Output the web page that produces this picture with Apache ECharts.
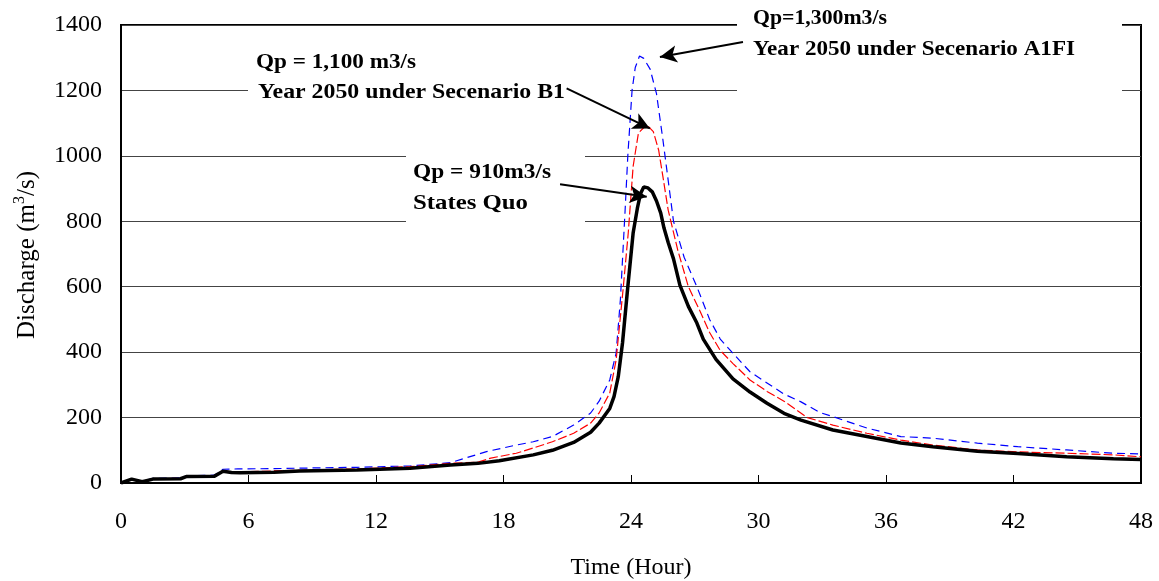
<!DOCTYPE html>
<html><head><meta charset="utf-8">
<script src="https://cdn.jsdelivr.net/npm/echarts@6/dist/echarts.min.js"></script>
<style>html,body{margin:0;padding:0;background:#fff}#c{width:1159px;height:581px}</style>
</head><body><div id="c"></div>
<script>
// Status Quo (black, solid)
const sqHours = [0, 0.5, 1, 1.5, 2.8, 3.1, 4.4, 4.8, 5.2, 5.6, 7.2, 8.4, 11.1, 13.6, 15.5, 16.8, 17.8, 19.4, 20.3, 21.3, 22.1, 22.5, 23.0, 23.2, 23.4, 23.6, 23.85, 24.1, 24.3, 24.45, 24.6, 24.8, 25.0, 25.2, 25.4, 25.55, 25.75, 26.0, 26.3, 26.7, 27.1, 27.4, 28.0, 28.8, 29.6, 30.4, 31.2, 32.0, 33.5, 35.1, 36.7, 38.2, 40.3, 42.2, 44.5, 46.7, 48];
const sqFlow  = [0, 12, 4, 12, 13, 20, 21, 36, 32, 31, 33, 37, 40, 45, 55, 60, 68, 86, 100, 124, 155, 183, 228, 264, 325, 428, 600, 764, 840, 885, 905, 902, 890, 862, 825, 780, 735, 685, 605, 540, 489, 440, 378, 318, 278, 244, 213, 192, 162, 142, 122, 111, 97, 90, 80, 74, 72];
// Year 2050 under Scenario B1 (red, dashed)
const b1Hours = [0, 0.5, 1, 1.5, 2.8, 3.1, 4.4, 4.8, 5.2, 5.6, 7.2, 9, 11.1, 13.6, 15.5, 16.8, 17.4, 18.6, 19.4, 20.3, 21.3, 22.1, 22.5, 23.0, 23.3, 23.64, 23.87, 24.1, 24.35, 24.74, 25.05, 25.3, 25.5, 25.75, 26.2, 26.7, 27.25, 27.7, 28.2, 28.8, 29.6, 30.4, 31.2, 32.3, 33.5, 35.1, 36.7, 38.2, 40.3, 42.2, 44.5, 46.7, 48];
const b1Flow  = [0, 12, 5, 13, 14, 21, 22, 38, 34, 34, 37, 40, 43, 50, 60, 64, 76, 91, 107, 126, 152, 183, 214, 275, 376, 600, 764, 968, 1070, 1095, 1074, 1018, 937, 834, 712, 600, 525, 460, 405, 365, 315, 280, 250, 200, 177, 152, 131, 116, 101, 95, 91, 86, 80];
// Year 2050 under Scenario A1FI (blue, dashed)
const a1Hours = [0, 0.5, 1, 1.5, 2.8, 3.1, 4.4, 4.8, 5.5, 7.2, 9, 11.1, 13.6, 15.5, 16.3, 17.2, 18.6, 19.4, 20.3, 21.3, 22.1, 22.5, 23.0, 23.3, 23.5, 23.72, 23.85, 24.05, 24.2, 24.4, 24.6, 24.9, 25.2, 25.5, 25.8, 26.0, 26.5, 27.1, 27.7, 28.2, 28.75, 29.6, 30.4, 31.2, 32.0, 32.9, 33.5, 35.1, 36.7, 38.2, 40.3, 42.2, 44.5, 46.7, 48];
const a1Flow  = [0, 12, 5, 14, 16, 22, 24, 42, 43, 44, 46, 48, 52, 62, 78, 96, 116, 126, 142, 177, 214, 250, 315, 397, 560, 830, 1000, 1200, 1270, 1305, 1298, 1265, 1190, 1050, 900, 800, 690, 600, 500, 440, 400, 340, 306, 272, 248, 215, 203, 168, 142, 137, 122, 111, 101, 91, 89];

const xTickValues = [0, 6, 12, 18, 24, 30, 36, 42, 48];
const yTickValues = [0, 200, 400, 600, 800, 1000, 1200, 1400];

// Annotation arrows [tailX, tailY, headX, headY] in data units
const arrowA1 = [29.27, 1348, 25.36, 1302];
const arrowB1 = [20.97, 1206, 24.89, 1084];
const arrowSQ = [20.66, 913, 24.74, 875];

const noteA1 = ['Qp=1,300m3/s', 'Year 2050 under Secenario A1FI'];
const noteB1 = ['Qp = 1,100 m3/s', 'Year 2050 under Secenario B1'];
const noteSQ = ['Qp = 910m3/s', 'States Quo'];

const zip = (xs, ys) => xs.map((x, i) => [x, ys[i]]);
const FONT = '"Liberation Serif", "Times New Roman", serif';
const NOTE_FONT = 'bold 22px ' + FONT;

const mctx = document.createElement('canvas').getContext('2d');
mctx.font = NOTE_FONT;

const chart = echarts.init(document.getElementById('c'), null, { renderer: 'canvas' });

function arrowLine(a) {
  return [{ coord: [a[0], a[1]], symbol: 'none' }, { coord: [a[2], a[3]], symbol: 'arrow' }];
}

const boxStyle = { fill: '#fff', stroke: null };
// text placed at left x, vertical middle y, stretched to the given width
function noteText(x, y, t, w) {
  const mw = mctx.measureText(t).width || w;
  return { type: 'text', x: x, y: y, scaleX: w / mw, z: 51, silent: true,
    style: { text: t, fill: '#000', font: NOTE_FONT, textAlign: 'left', textVerticalAlign: 'middle' } };
}

chart.setOption({
  animation: false,
  backgroundColor: '#fff',
  grid: { left: 121, right: 18, top: 25, bottom: 98, show: true, borderColor: '#000', borderWidth: 2,
    backgroundColor: 'transparent', containLabel: false, outerBoundsMode: 'none' },
  xAxis: {
    type: 'value', min: 0, max: 48, interval: 6,
    name: 'Time (Hour)', nameLocation: 'middle', nameGap: 73,
    nameTextStyle: { fontFamily: FONT, fontSize: 24, color: '#000' },
    axisLine: { show: true, lineStyle: { color: '#000', width: 2 } },
    axisTick: { show: true, inside: true, length: 8, lineStyle: { color: '#000', width: 1 } },
    axisLabel: { margin: 27, fontFamily: FONT, fontSize: 24, color: '#000',
      formatter: v => xTickValues.includes(v) ? String(v) : '' },
    splitLine: { show: false }
  },
  yAxis: {
    type: 'value', min: 0, max: 1400, interval: 200,
    axisLine: { show: true, lineStyle: { color: '#000', width: 2 } },
    axisTick: { show: false },
    axisLabel: { margin: 19, fontFamily: FONT, fontSize: 24, color: '#000', padding: [4, 0, 0, 0],
      formatter: v => yTickValues.includes(v) ? String(v) : '' },
    splitLine: { show: true, lineStyle: { color: '#444', width: 1 } }
  },
  series: [
    { type: 'line', name: 'A1FI', data: zip(a1Hours, a1Flow), showSymbol: false,
      lineStyle: { color: '#0000ff', width: 1.2, type: [8, 5] }, z: 3 },
    { type: 'line', name: 'B1', data: zip(b1Hours, b1Flow), showSymbol: false,
      lineStyle: { color: '#ff0000', width: 1.2, type: [9, 3] }, z: 4 },
    { type: 'line', name: 'Status Quo', data: zip(sqHours, sqFlow), showSymbol: false,
      lineStyle: { color: '#000', width: 3.5 }, z: 5 },
    { type: 'line', name: 'arrows', data: [], z: 100, silent: true,
      markLine: { z: 100, silent: true, symbolSize: [13, 17], animation: false,
        label: { show: false }, emphasis: { disabled: true },
        lineStyle: { color: '#000', width: 2, type: 'solid' },
        data: [arrowLine(arrowA1), arrowLine(arrowB1), arrowLine(arrowSQ)] } }
  ],
  graphic: [
    { type: 'rect', z: 50, silent: true, shape: { x: 737, y: 0, width: 385, height: 98 }, style: boxStyle },
    { type: 'rect', z: 50, silent: true, shape: { x: 248, y: 40, width: 382, height: 72 }, style: boxStyle },
    { type: 'rect', z: 50, silent: true, shape: { x: 406, y: 150, width: 179, height: 78 }, style: boxStyle },
    noteText(753, 18.5, noteA1[0], 134),
    noteText(753, 49.5, noteA1[1], 322),
    noteText(256, 62.5, noteB1[0], 160),
    noteText(258, 92.5, noteB1[1], 307),
    noteText(413, 172.5, noteSQ[0], 138),
    noteText(413, 203.5, noteSQ[1], 115),
    { type: 'text', x: 27, y: 255, rotation: Math.PI / 2, z: 51, silent: true,
      style: { text: 'Discharge (m{s|3}/s)', fill: '#000', fontFamily: FONT, fontSize: 25,
        textAlign: 'center', textVerticalAlign: 'middle',
        rich: { s: { fontFamily: FONT, fontSize: 16, fill: '#000', padding: [0, 0, 15, 0] } } } }
  ]
});
</script>
</body></html>
